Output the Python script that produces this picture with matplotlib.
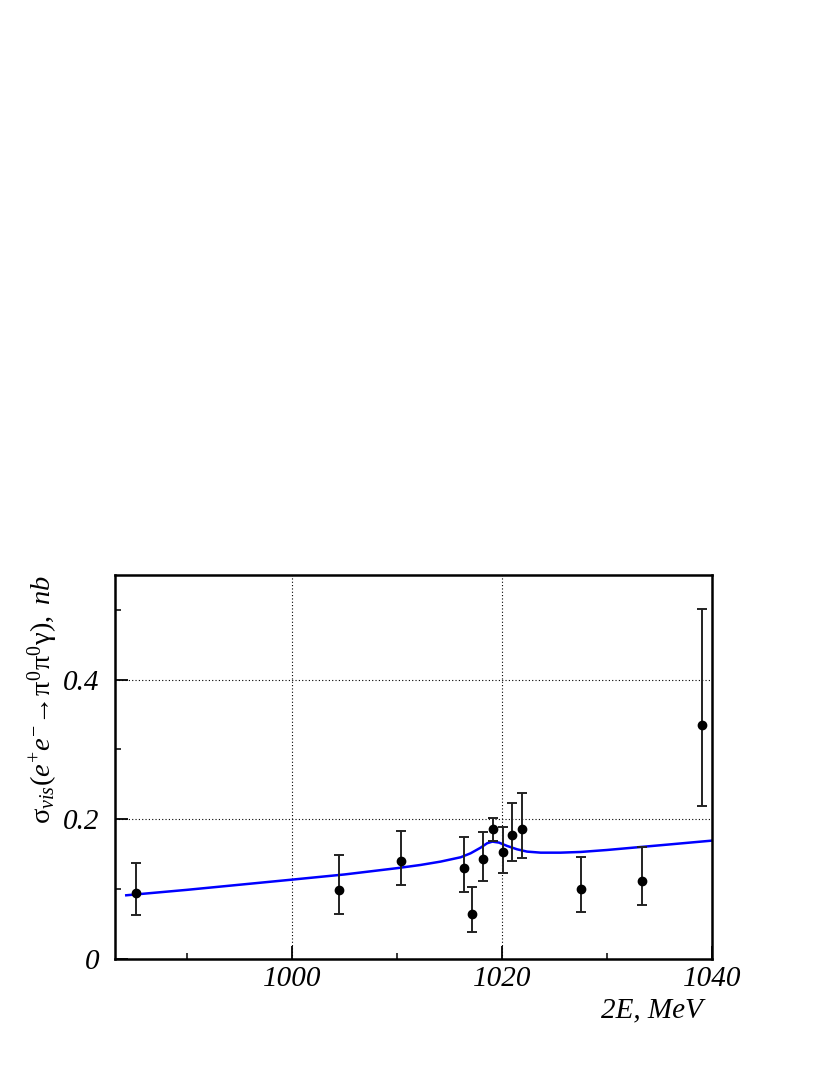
import numpy as np
import matplotlib
matplotlib.use('Agg')
import matplotlib.pyplot as plt
from matplotlib.ticker import MultipleLocator

# Schrift: Times-artig, kursiv wie im Original
plt.rcParams['font.family'] = ['Liberation Serif', 'DejaVu Serif']
plt.rcParams['mathtext.fontset'] = 'custom'
plt.rcParams['mathtext.rm'] = 'Liberation Serif'
plt.rcParams['mathtext.it'] = 'Liberation Serif:italic'
plt.rcParams['mathtext.bf'] = 'Liberation Serif:bold'

# 1. DATEN
# -------------------------------------------------------------------------
energy = [985.13, 1004.51, 1010.37, 1016.35, 1017.18, 1018.16, 1019.18,
          1020.07, 1020.96, 1021.95, 1027.58, 1033.34, 1039.04]
sigma = [0.0945, 0.0993, 0.140, 0.130, 0.0644, 0.1427, 0.1857,
         0.1528, 0.1776, 0.1857, 0.1007, 0.1117, 0.3351]
err_up = [0.0435, 0.0492, 0.0433, 0.0448, 0.0392, 0.0392, 0.0167,
          0.0358, 0.0453, 0.0520, 0.0458, 0.0483, 0.1657]
err_down = [0.0310, 0.0349, 0.0336, 0.0344, 0.0253, 0.0310, 0.0167,
            0.0301, 0.0373, 0.0415, 0.0329, 0.0348, 0.1164]

# Fitkurve
fit_e = [984.2, 990.0, 1000.0, 1005.0, 1010.0, 1012.25, 1014.16, 1016.07,
         1017.02, 1017.98, 1018.6, 1019.09, 1019.72, 1020.5, 1021.45,
         1022.4, 1023.7, 1025.6, 1027.5, 1030.0, 1033.0, 1036.0, 1040.0]
fit_s = [0.0912, 0.0990, 0.1136, 0.1210, 0.1300, 0.1346, 0.1394, 0.1456,
         0.1513, 0.1594, 0.1657, 0.1680, 0.1666, 0.1618, 0.1570,
         0.1537, 0.1522, 0.1522, 0.1532, 0.1560, 0.1600, 0.1640, 0.1694]

# 2. PLOT
# -------------------------------------------------------------------------
fig = plt.figure(figsize=(8.3, 10.75), dpi=100)
ax = fig.add_axes([0.1386, 0.1079, 0.7189, 0.3575])

ax.plot(fit_e, fit_s, color='#0000ff', linewidth=1.8, zorder=2)
ax.errorbar(energy, sigma, yerr=[err_down, err_up], fmt='o', color='#222222',
            mfc='black', mec='black', markersize=6, elinewidth=1.4,
            capsize=3.5, capthick=1.4, zorder=3)

ax.set_xlim(983.13, 1040)
ax.set_ylim(0, 0.55)

ax.xaxis.set_major_locator(MultipleLocator(20))
ax.xaxis.set_minor_locator(MultipleLocator(10))
ax.yaxis.set_minor_locator(MultipleLocator(0.1))
ax.set_yticks([0, 0.2, 0.4])
ax.set_yticklabels(['0', '0.2', '0.4'])

ax.tick_params(which='both', direction='in', top=False, right=False)
ax.tick_params(which='major', length=9.5, width=1.3)
ax.tick_params(which='minor', length=4.5, width=1.1)
ax.tick_params(axis='y', pad=11)
ax.tick_params(axis='x', pad=5)
for lab in ax.get_xticklabels() + ax.get_yticklabels():
    lab.set_fontstyle('italic')
    lab.set_fontsize(21)

ax.grid(True, which='major', color='black', linestyle=(0, (1, 2)), linewidth=0.8)

for sp in ax.spines.values():
    sp.set_linewidth(1.8)

ax.set_ylabel(r'$\mathrm{\sigma}_{vis}(e^{+}e^{-}\!\rightarrow\!\mathrm{\pi}^{0}\mathrm{\pi}^{0}\mathrm{\gamma}),\ nb$',
              fontsize=20.5, loc='top')
ax.yaxis.set_label_coords(-0.093, 1.0)
ax.set_xlabel('2E, MeV', fontsize=21, fontstyle='italic', loc='right')
ax.xaxis.set_label_coords(0.985, -0.10)

plt.savefig('out.png', dpi=100)
plt.close()
